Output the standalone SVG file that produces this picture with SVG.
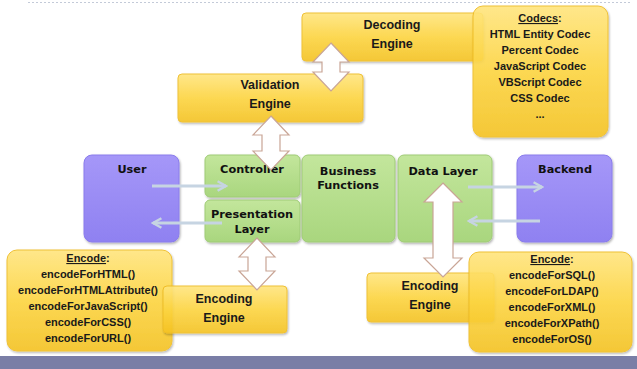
<svg xmlns="http://www.w3.org/2000/svg" width="637" height="369" viewBox="0 0 637 369">
<defs>
<linearGradient id="gy" x1="0" y1="0" x2="0" y2="1">
<stop offset="0" stop-color="#ffe57e"/>
<stop offset="0.5" stop-color="#fcd440"/>
<stop offset="1" stop-color="#f4c222"/>
</linearGradient>
<linearGradient id="gg" x1="0" y1="0" x2="0" y2="1">
<stop offset="0" stop-color="#c3e69c"/>
<stop offset="1" stop-color="#a9d67e"/>
</linearGradient>
<linearGradient id="gp" x1="0" y1="0" x2="0" y2="1">
<stop offset="0" stop-color="#a597f8"/>
<stop offset="1" stop-color="#8f81f1"/>
</linearGradient>
<filter id="sh" x="-10%" y="-10%" width="120%" height="130%">
<feDropShadow dx="1" dy="1.5" stdDeviation="1.2" flood-color="#000" flood-opacity="0.3"/>
</filter>
<marker id="ah" viewBox="0 0 10 10" refX="8" refY="5" markerWidth="4" markerHeight="4" orient="auto-start-reverse" markerUnits="strokeWidth">
<path d="M1,1 L8,5 L1,9" fill="none" stroke="#c6d4e2" stroke-width="2"/>
</marker>
<style>
.y{fill:url(#gy);stroke:#eebb22;stroke-width:1;opacity:0.9;filter:url(#sh)}
.g{fill:url(#gg);stroke:#9fcb76;stroke-width:1;filter:url(#sh)}
.p{fill:url(#gp);stroke:#8a7cec;stroke-width:1;filter:url(#sh)}
.t{font-family:"DejaVu Sans",Verdana,sans-serif;font-weight:bold;font-size:11.3px;fill:#111;text-anchor:middle}
.e{font-family:"Liberation Sans",Arial,sans-serif;font-weight:bold;font-size:12.5px;fill:#1a1a1a;text-anchor:middle}
.l{font-family:"Liberation Sans",Arial,sans-serif;font-weight:bold;font-size:11px;fill:#1a1a1a;text-anchor:middle}
.u{text-decoration:underline}
.da{fill:#fff;stroke:#c9a596;stroke-width:1.2;stroke-linejoin:miter}
.sa{fill:none;stroke:#c6d4e2;stroke-width:3;marker-end:url(#ah)}
</style>
</defs>
<rect width="637" height="369" fill="#fff"/>
<line x1="28" y1="2.5" x2="632" y2="2.5" stroke="#c3cad8" stroke-width="1" stroke-dasharray="2,2"/>
<rect x="0" y="356" width="637" height="13" fill="#7a7ea6"/>

<g id="decoding">
<rect class="y" x="302" y="13" width="181" height="48" rx="4"/>
<text class="e" x="392" y="29">Decoding</text>
<text class="e" x="392" y="48">Engine</text>
</g>
<g id="codecs">
<rect class="y" x="473" y="6" width="135" height="131" rx="10"/>
<text class="l" x="540" y="22" font-size="11.5"><tspan class="u">Codecs</tspan>:</text>
<text class="l" x="540" y="38" font-size="11.5">HTML Entity Codec</text>
<text class="l" x="540" y="54" font-size="11.5">Percent Codec</text>
<text class="l" x="540" y="70" font-size="11.5">JavaScript Codec</text>
<text class="l" x="540" y="86" font-size="11.5">VBScript Codec</text>
<text class="l" x="540" y="102" font-size="11.5">CSS Codec</text>
<text class="l" x="540" y="118" font-size="11.5">...</text>
</g>
<g id="validation">
<rect class="y" x="178" y="74" width="185" height="48" rx="4"/>
<text class="e" x="270" y="89">Validation</text>
<text class="e" x="270" y="108">Engine</text>
</g>

<g id="user">
<rect class="p" x="84" y="155" width="95" height="87" rx="8"/>
<text class="t" x="132" y="173">User</text>
</g>
<g id="controller">
<rect class="g" x="205" y="155" width="95" height="42" rx="5"/>
<text class="t" x="252" y="173">Controller</text>
</g>
<g id="presentation">
<rect class="g" x="205" y="200" width="95" height="42" rx="5"/>
<text class="t" x="252" y="218">Presentation</text>
<text class="t" x="252" y="233">Layer</text>
</g>
<g id="business">
<rect class="g" x="302" y="155" width="93" height="87" rx="6"/>
<text class="t" x="348" y="175">Business</text>
<text class="t" x="348" y="189">Functions</text>
</g>
<g id="datalayer">
<rect class="g" x="398" y="155" width="94" height="87" rx="6"/>
<text class="t" x="443" y="175">Data Layer</text>
</g>
<g id="backend">
<rect class="p" x="517" y="155" width="95" height="87" rx="8"/>
<text class="t" x="565" y="173">Backend</text>
</g>

<g id="encode-left">
<rect class="y" x="7" y="250" width="165" height="101" rx="10"/>
<text class="l" x="88" y="262"><tspan class="u">Encode</tspan>:</text>
<text class="l" x="88" y="278">encodeForHTML()</text>
<text class="l" x="88" y="294">encodeForHTMLAttribute()</text>
<text class="l" x="88" y="310">encodeForJavaScript()</text>
<text class="l" x="88" y="326">encodeForCSS()</text>
<text class="l" x="88" y="342">encodeForURL()</text>
</g>
<g id="encoding-left">
<rect class="y" x="163" y="286" width="124" height="47" rx="4"/>
<text class="e" x="224" y="303">Encoding</text>
<text class="e" x="224" y="322">Engine</text>
</g>
<g id="encoding-right">
<rect class="y" x="367" y="273" width="127" height="49" rx="4"/>
<text class="e" x="430" y="290">Encoding</text>
<text class="e" x="430" y="309">Engine</text>
</g>
<g id="encode-right">
<rect class="y" x="469" y="252" width="163" height="100" rx="10"/>
<text class="l" x="552" y="263"><tspan class="u">Encode</tspan>:</text>
<text class="l" x="552" y="279">encodeForSQL()</text>
<text class="l" x="552" y="295">encodeForLDAP()</text>
<text class="l" x="552" y="311">encodeForXML()</text>
<text class="l" x="552" y="327">encodeForXPath()</text>
<text class="l" x="552" y="343">encodeForOS()</text>
</g>

<g id="connectors">
<path class="da" d="M331,43 L349,62 L340,62 L340,72 L349,72 L331,91 L313,72 L322,72 L322,62 L313,62 Z"/>
<path class="da" d="M271,116 L289,135 L280,135 L280,151 L289,151 L271,170 L253,151 L262,151 L262,135 L253,135 Z"/>
<path class="da" d="M257,238 L275,257 L266,257 L266,271 L275,271 L257,290 L239,271 L248,271 L248,257 L239,257 Z"/>
<path class="da" d="M443,183 L462,202 L453,202 L453,258 L462,258 L443,277 L424,258 L433,258 L433,202 L424,202 Z"/>
<line class="sa" x1="152" y1="186" x2="226" y2="186"/>
<line class="sa" x1="222" y1="223" x2="153" y2="223"/>
<line class="sa" x1="468" y1="187" x2="542" y2="187"/>
<line class="sa" x1="540" y1="221" x2="469" y2="221"/>
</g>
</svg>
